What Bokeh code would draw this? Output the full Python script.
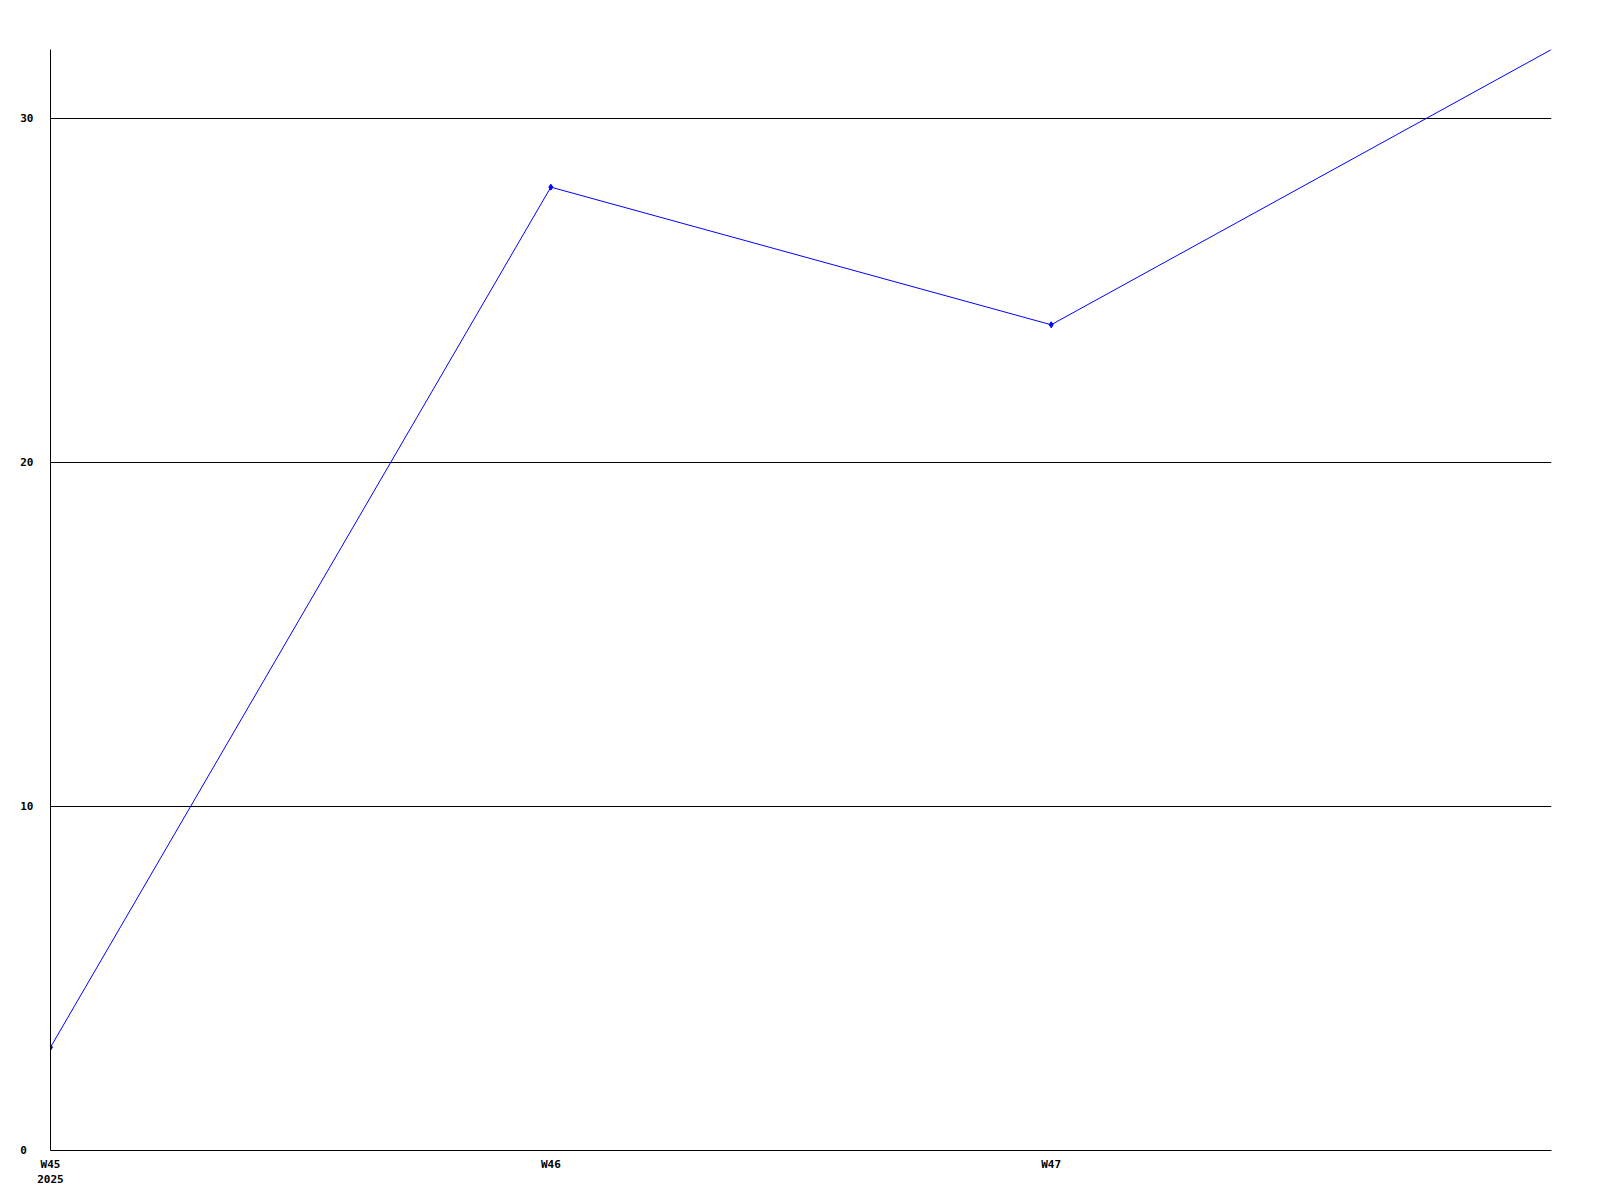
from bokeh.plotting import figure
from bokeh.models import Range1d, FixedTicker
from bokeh.embed import file_html
from bokeh.resources import INLINE

weeks = ["W45", "W46", "W47", "W48"]
values = [3, 28, 24, 32]
year = "2025"
y_ticks = [0, 10, 20, 30]
x_labelled = [0, 1, 2]

xs = list(range(len(weeks)))

p = figure(output_backend="svg", toolbar_location=None,
           frame_width=1501, frame_height=1101,
           min_border_left=50, min_border_top=49,
           min_border_right=40, min_border_bottom=40,
           x_range=Range1d(0, len(weeks) - 1), y_range=Range1d(0, 32))
p.outline_line_color = None
p.background_fill_color = "white"
p.border_fill_color = "white"

p.xgrid.grid_line_color = None
p.ygrid.grid_line_color = "black"
p.ygrid.grid_line_width = 1
p.ygrid.ticker = FixedTicker(ticks=y_ticks)

overrides = {}
for i in x_labelled:
    overrides[i] = weeks[i] + ("\n" + year if i == 0 else "")

for ax in (p.xaxis[0], p.yaxis[0]):
    ax.axis_line_color = "black"
    ax.axis_line_width = 1
    ax.major_tick_line_color = None
    ax.minor_tick_line_color = None
    ax.major_tick_in = 0
    ax.major_tick_out = 0
    ax.major_label_text_font = "DejaVu Sans Mono"
    ax.major_label_text_font_style = "bold"
    ax.major_label_text_font_size = "11px"
    ax.major_label_text_color = "black"

p.xaxis.ticker = FixedTicker(ticks=x_labelled)
p.xaxis.major_label_overrides = overrides
p.xaxis.major_label_standoff = 7
p.yaxis.ticker = FixedTicker(ticks=y_ticks)
p.yaxis.major_label_overrides = {0: "0\u00a0"}
p.yaxis.major_label_standoff = 17

p.line(xs, values, line_color="#0000ff", line_width=1)
p.scatter(xs[:-1], values[:-1], marker="diamond", size=6, color="#0000ff")

open("out.html", "w").write(file_html(p, INLINE))
